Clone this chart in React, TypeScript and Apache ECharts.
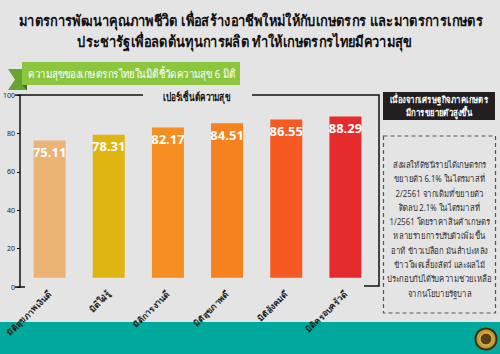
import React, { useEffect, useRef } from "react";
import * as echarts from "echarts";

const categories = ["มิติสุขภาพเงินดี", "มิติใฝ่รู้", "มิติการงานดี", "มิติสุขภาพดี", "มิติสังคมดี", "มิติครอบครัวดี"];
const values = [75.11, 78.31, 82.17, 84.51, 86.55, 88.29];
const barColors = ["#ebb474", "#deb511", "#f68e22", "#f5821f", "#f45a21", "#e62b2c"];
const yTicks = [0, 20, 40, 60, 80, 100];

const titleLines = [
  "มาตรการพัฒนาคุณภาพชีวิต เพื่อสร้างอาชีพใหม่ให้กับเกษตรกร และมาตรการเกษตร",
  "ประชารัฐเพื่อลดต้นทุนการผลิต ทำให้เกษตรกรไทยมีความสุข",
];
const ribbonText = "ความสุขของเกษตรกรไทยในมิติชี้วัดความสุข 6 มิติ";
const axisTitle = "เปอร์เซ็นต์ความสุข";
const noteHead = ["เนื่องจากเศรษฐกิจภาคเกษตร", "มีการขยายตัวสูงขึ้น"];
const noteBody = [
  "ส่งผลให้ดัชนีรายได้เกษตรกร",
  "ขยายตัว 6.1% ในไตรมาสที่",
  "2/2561 จากเดิมที่ขยายตัว",
  "ติดลบ 2.1% ในไตรมาสที่",
  "1/2561 โดยราคาสินค้าเกษตร",
  "หลายรายการปรับตัวเพิ่มขึ้น",
  "อาทิ ข้าวเปลือก มันสำปะหลัง",
  "ข้าวโพดเลี้ยงสัตว์ และผลไม้",
  "ประกอบกับได้รับความช่วยเหลือ",
  "จากนโยบายรัฐบาล",
];

const FONT = "'Noto Sans', 'DejaVu Sans', sans-serif";

export default function App() {
  const ref = useRef<HTMLDivElement>(null);
  useEffect(() => {
    document.body.style.margin = "0";
    const chart = echarts.init(ref.current!, null, { renderer: "svg" });
    const option: any = {
      animation: false,
      backgroundColor: "#e4e4e4",
      grid: { left: 15, right: 125, top: 95, bottom: 67 },
      xAxis: {
        type: "category",
        data: categories,
        axisLine: { show: false },
        axisTick: { show: false },
        axisLabel: {
          rotate: 45,
          interval: 0,
          margin: 5,
          fontSize: 8.5,
          fontWeight: "bold",
          color: "#222",
          fontFamily: FONT,
        },
      },
      yAxis: [
        {
          type: "value",
          min: 0,
          max: 100,
          interval: 20,
          data: yTicks,
          splitLine: { show: false },
          axisLine: { show: true, lineStyle: { color: "#111", width: 1.5 } },
          axisTick: { show: true, length: 3, lineStyle: { color: "#111" } },
          axisLabel: { fontSize: 7, color: "#222", margin: 5, fontFamily: FONT },
        },
        {
          type: "value",
          min: -5,
          max: 100,
          show: false,
          splitLine: { show: false },
        },
      ],
      series: [
        {
          type: "bar",
          yAxisIndex: 1,
          barWidth: 32,
          data: values.map((v, i) => ({ value: v, itemStyle: { color: barColors[i] } })),
          label: {
            show: true,
            position: "insideTop",
            distance: 5,
            color: "#fff",
            fontSize: 13,
            fontWeight: "bold",
            fontFamily: "'Open Sans', sans-serif",
            formatter: (p: any) => p.value.toFixed(2),
          },
        },
      ],
      graphic: [
        // title
        {
          type: "text",
          x: 251,
          y: 20,
          scaleX: 0.86,
          style: { text: titleLines[0], font: `bold 15px ${FONT}`, fill: "#111", align: "center", verticalAlign: "middle" },
        },
        {
          type: "text",
          x: 245,
          y: 41,
          scaleX: 0.86,
          style: { text: titleLines[1], font: `bold 15px ${FONT}`, fill: "#111", align: "center", verticalAlign: "middle" },
        },
        // ribbon
        {
          type: "polygon",
          shape: { points: [[8, 69], [27, 69], [27, 90], [8, 90], [15, 79.5]] },
          style: { fill: "#69a431" },
        },
        {
          type: "polygon",
          shape: { points: [[22, 85], [27, 85], [27, 90]] },
          style: { fill: "#3f6e1c" },
        },
        {
          type: "rect",
          shape: { x: 22, y: 62, width: 218, height: 23 },
          style: { fill: "#8cc63f" },
        },
        {
          type: "text",
          x: 132,
          y: 73.5,
          scaleX: 0.84,
          style: {
            text: ribbonText,
            font: `11.5px ${FONT}`,
            fill: "#fff",
            align: "center",
            verticalAlign: "middle",
          },
        },
        // frame lines
        {
          type: "polyline",
          shape: { points: [[15, 95], [143, 95]] },
          style: { stroke: "#111", lineWidth: 1.5, fill: null },
        },
        {
          type: "polyline",
          shape: { points: [[252, 95], [379, 95], [379, 286], [364, 286]] },
          style: { stroke: "#111", lineWidth: 1.5, fill: null },
        },
        {
          type: "polyline",
          shape: { points: [[15, 287], [25, 287]] },
          style: { stroke: "#111", lineWidth: 1.5, fill: null },
        },
        {
          type: "text",
          x: 197,
          y: 97,
          scaleX: 0.75,
          style: {
            text: axisTitle,
            font: `bold 11px ${FONT}`,
            fill: "#111",
            align: "center",
            verticalAlign: "middle",
          },
        },
        // note head
        {
          type: "rect",
          shape: { x: 383, y: 92, width: 112, height: 28 },
          style: { fill: "#231f20" },
        },
        {
          type: "text",
          x: 439,
          y: 106,
          scaleX: 0.82,
          style: {
            text: noteHead.join("\n"),
            font: `bold 9.5px ${FONT}`,
            lineHeight: 13,
            fill: "#fff",
            align: "center",
            verticalAlign: "middle",
          },
        },
        // dashed box
        {
          type: "rect",
          shape: { x: 383.5, y: 136, width: 112, height: 177 },
          style: { fill: null, stroke: "#555", lineWidth: 1.2, lineDash: [4, 3] },
        },
        {
          type: "text",
          x: 439.5,
          y: 228.5,
          scaleX: 0.86,
          style: {
            text: noteBody.join("\n"),
            font: `9px ${FONT}`,
            lineHeight: 14.3,
            fill: "#333",
            align: "center",
            verticalAlign: "middle",
          },
        },
        // bottom band
        {
          type: "rect",
          shape: { x: 0, y: 322, width: 500, height: 32 },
          style: { fill: "#00a99c" },
        },
        {
          type: "circle",
          shape: { cx: 486, cy: 339, r: 10.5 },
          style: { fill: "#c49a2c", stroke: "#3a2a12", lineWidth: 2 },
        },
        {
          type: "circle",
          shape: { cx: 486, cy: 339, r: 6 },
          style: { fill: "#5a3f14", stroke: "#e9d27a", lineWidth: 1 },
        },
      ],
    };
    chart.setOption(option);
    return () => chart.dispose();
  }, []);
  return <div ref={ref} style={{ width: 500, height: 354 }} />;
}
